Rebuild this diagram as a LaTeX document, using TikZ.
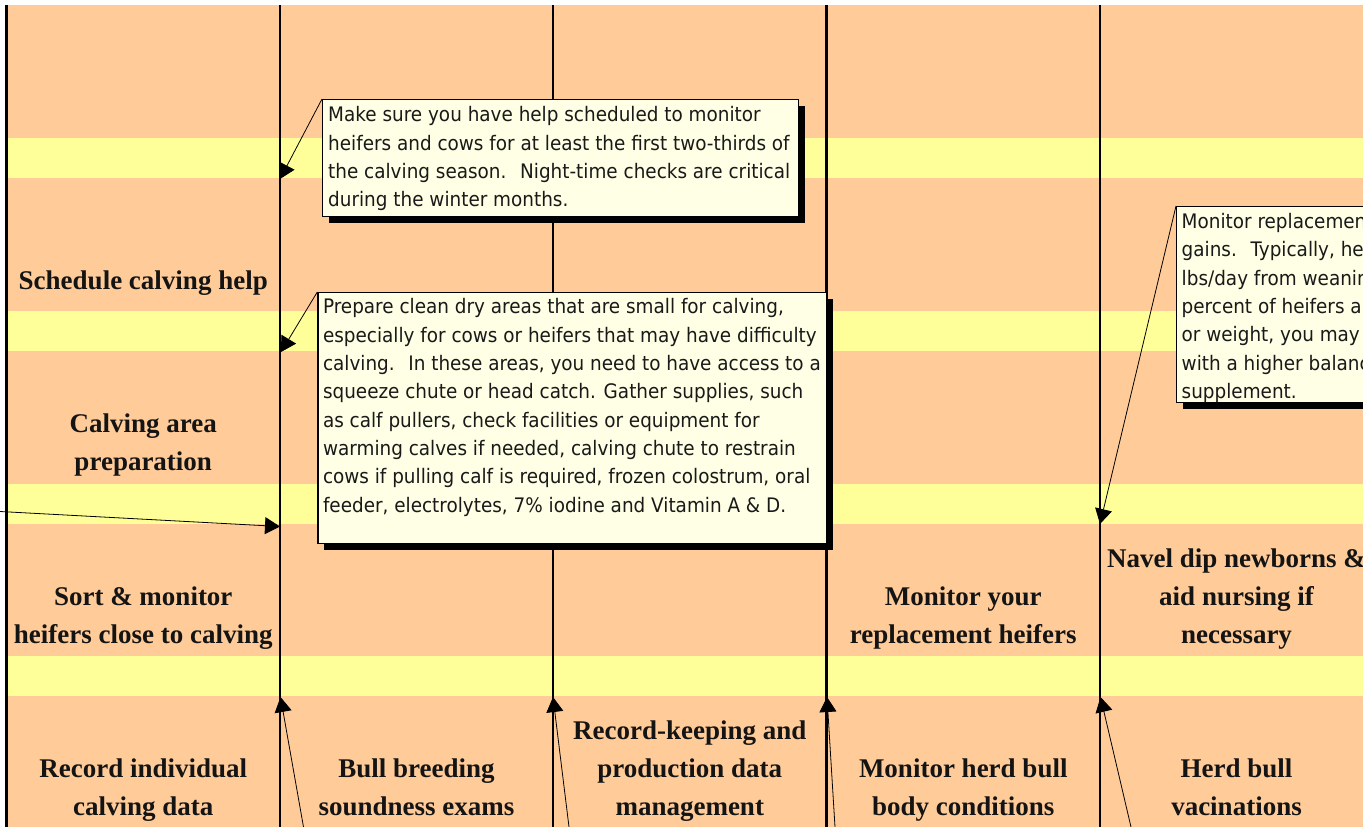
\documentclass[tikz,border=0pt]{standalone}
\usepackage{fontspec}
\usetikzlibrary{arrows.meta,shadows}
\newfontfamily\labfont{Liberation Serif}
\newfontfamily\callfont[FakeStretch=0.92]{DejaVu Sans}
\definecolor{peach}{RGB}{255,204,153}
\definecolor{bandyellow}{RGB}{255,255,153}
\definecolor{callfill}{RGB}{255,255,229}
\begin{document}
\begin{tikzpicture}[x=1pt,y=-1pt,
  lab/.style={font=\labfont\bfseries\fontsize{27}{38}\selectfont, align=center, inner sep=0pt, anchor=south, text=black!92},
  callbox/.style={draw=black, line width=1.2pt, fill=callfill, anchor=north west, inner sep=0pt,
    general shadow={fill=black, shadow xshift=6.5pt, shadow yshift=-6.5pt}},
  calltext/.style={font=\callfont\fontsize{20}{28.33}\selectfont, align=left, inner sep=0pt, anchor=north west, text=black!90},
  colline/.style={line width=2.7pt},
  ptr/.style={line width=0.8pt, -{Triangle[length=15pt,width=17pt]}},
]
\useasboundingbox (0,0) rectangle (1363,827);
\clip (0,0) rectangle (1363,827);
\fill[white] (0,0) rectangle (1363,827);
\fill[peach] (6.5,5) rectangle (1363,827);
\foreach \y in {138,311,484,656} \fill[bandyellow] (6.5,\y) rectangle (1363,\y+40);
\foreach \x in {6.5,280,553,826.5,1100} \draw[colline] (\x,5) -- (\x,827);

% labels
\node[lab] (l12) at (143.25,301.4) {Schedule calving help\strut};
\node[lab] (l13) at (143.25,481.9) {Calving area\\ preparation\strut};
\node[lab] (l14) at (143.25,654.9) {Sort \& monitor\\ heifers close to calving\strut};
\node[lab] (l15) at (143.25,827.4) {Record individual\\ calving data\strut};
\node[lab] (l25) at (416.5,827.4) {Bull breeding\\ soundness exams\strut};
\node[lab] (l35) at (689.75,827.4) {Record-keeping and\\ production data\\ management\strut};
\node[lab] (l44) at (963.25,654.9) {Monitor your\\ replacement heifers\strut};
\node[lab] (l45) at (963.25,827.4) {Monitor herd bull\\ body conditions\strut};
\node[lab] (l54) at (1236.5,654.9) {Navel dip newborns \&\\ aid nursing if\\ necessary\strut};
\node[lab] (l55) at (1236.5,827.4) {Herd bull\\ vacinations\strut};

% callouts
\node[callbox, minimum width=476pt, minimum height=117pt] (b1) at (322,99) {};
\node[calltext] (t1) at ([xshift=6pt,yshift=-2.8pt]b1.north west) {\strut Make sure you have help scheduled to monitor\\ heifers and cows for at least the first two-thirds of\\ the calving season.~ Night-time checks are critical\\ during the winter months.};

\node[callbox, minimum width=508.7pt, minimum height=251pt] (b2) at (317.3,292) {};
\node[calltext] (t2) at ([xshift=5.5pt,yshift=-1.8pt]b2.north west) {\strut Prepare clean dry areas that are small for calving,\\ especially for cows or heifers that may have difficulty\\ calving.~ In these areas, you need to have access to a\\ squeeze chute or head catch. Gather supplies, such\\ as calf pullers, check facilities or equipment for\\ warming calves if needed, calving chute to restrain\\ cows if pulling calf is required, frozen colostrum, oral\\ feeder, electrolytes, 7\% iodine and Vitamin A \& D.};

\node[callbox, minimum width=400pt, minimum height=196pt] (b3) at (1176,206) {};
\node[calltext] (t3) at ([xshift=5.5pt,yshift=-2.6pt]b3.north west) {\strut Monitor replacement\\ gains.~ Typically, heifers\\ lbs/day from weaning\\ percent of heifers are\\ or weight, you may\\ with a higher balanced\\ supplement.};

% arrow targets and free ends
\coordinate (p1) at (280,179);
\coordinate (p2) at (281,352);
\coordinate (p3) at (1100,524);
\coordinate (s4) at (0,511.5);
\coordinate (p4) at (280,526.5);
\coordinate (s5) at (303.5,827);
\coordinate (p5) at (280.5,697);
\coordinate (s6) at (569,827);
\coordinate (p6) at (553,697);
\coordinate (s7) at (835,827);
\coordinate (p7) at (827,697);
\coordinate (s8) at (1131,827);
\coordinate (p8) at (1100.5,697);

\draw[ptr] (b1.north west) -- (p1);
\draw[ptr] (b2.north west) -- (p2);
\draw[ptr] (b3.north west) -- (p3);
\draw[ptr] (s4) -- (p4);
\draw[ptr] (s5) -- (p5);
\draw[ptr] (s6) -- (p6);
\draw[ptr] (s7) -- (p7);
\draw[ptr] (s8) -- (p8);
\end{tikzpicture}
\end{document}
